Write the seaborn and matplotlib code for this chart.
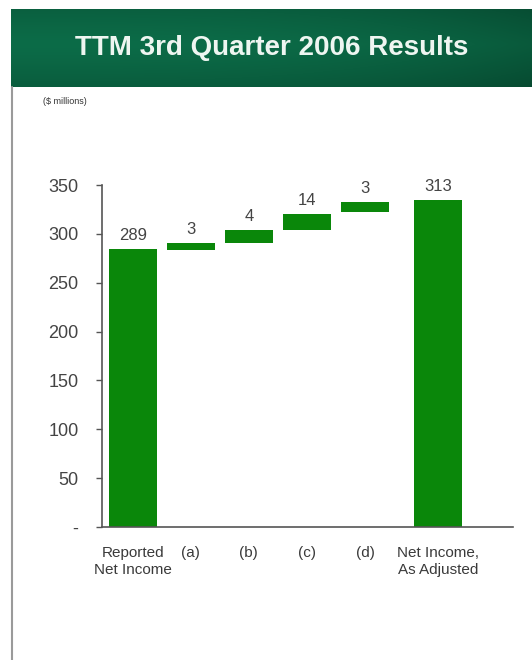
import numpy as np
import pandas as pd
import matplotlib
matplotlib.use("Agg")
import matplotlib.pyplot as plt
import seaborn as sns

# Waterfall data ($ millions)
categories = ["Reported\nNet Income", "(a)", "(b)", "(c)", "(d)", "Net Income,\nAs Adjusted"]
bar_bottom = [0, 283, 291, 304, 322, 0]
bar_top = [285, 291, 304, 320, 333, 335]
value_labels = ["289", "3", "4", "14", "3", "313"]
y_ticks = [0, 50, 100, 150, 200, 250, 300, 350]
y_tick_labels = ["-", "50", "100", "150", "200", "250", "300", "350"]

# layout: slot of each bar along the x axis (last bar sits a bit further out)
slot = [0, 1, 2, 3, 4, 5.26]

sns.set_style("white")
plt.rcParams["font.family"] = ["Liberation Sans", "DejaVu Sans"]

df = pd.DataFrame({
    "slot": slot,
    "height": np.array(bar_top) - np.array(bar_bottom),
    "bottom": bar_bottom,
})

fig = plt.figure(figsize=(5.32, 6.6), dpi=100)

# green header band with a soft gradient
hdr = fig.add_axes([11 / 532, 1 - 87 / 660, 1 - 11 / 532, 78 / 660])
rows = np.linspace(0, 1, 60)
cols = np.linspace(0, 1, 200)
shade = 1 - 0.6 * np.abs(rows - 0.45)[:, None] ** 1.2 - 0.35 * cols[None, :] ** 3
dark = np.array([4, 56, 36]) / 255
light = np.array([12, 108, 72]) / 255
img = dark + (light - dark) * np.clip(shade, 0, 1)[..., None]
hdr.imshow(img, aspect="auto", extent=[0, 1, 0, 1])
hdr.set_axis_off()
hdr.text(0.5, 0.5, "TTM 3rd Quarter 2006 Results", color="#eef6f1",
         fontsize=20, fontweight="bold", ha="center", va="center")

# thin grey frame line on the left
fig.add_artist(plt.Line2D([11.5 / 532, 11.5 / 532], [0, 1 - 87 / 660],
                          color="#9a9a9a", lw=1.5))
fig.text(43 / 532, 1 - 101 / 660, "($ millions)", fontsize=6.5,
         color="#333333", va="center")

ax = fig.add_axes([102 / 532, 1 - 527 / 660, 411 / 532, 342 / 660])
sns.barplot(data=df, x="slot", y="height", native_scale=True, width=0.82,
            color="#0a870a", saturation=1, errorbar=None,
            bottom=df["bottom"].values, edgecolor="none", ax=ax)

for xs, top, lab in zip(slot, bar_top, value_labels):
    ax.text(xs, top + 6, lab, ha="center", va="bottom", fontsize=12, color="#444444")

ax.set_xlim(-0.53, 6.55)
ax.set_ylim(0, 350)
ax.set_yticks(y_ticks)
ax.set_yticklabels(y_tick_labels, fontsize=13, color="#444444")
ax.set_xticks(slot)
ax.set_xticklabels(categories, fontsize=11, color="#3a3a3a", linespacing=1.25)
ax.tick_params(axis="y", length=4, width=1, color="#555555", left=True, pad=13)
ax.tick_params(axis="x", length=0, pad=14)
ax.set_xlabel("")
ax.set_ylabel("")
sns.despine(ax=ax, top=True, right=True)
for side in ["left", "bottom"]:
    ax.spines[side].set_color("#555555")
    ax.spines[side].set_linewidth(1.2)

fig.savefig("out.png", dpi=100)
